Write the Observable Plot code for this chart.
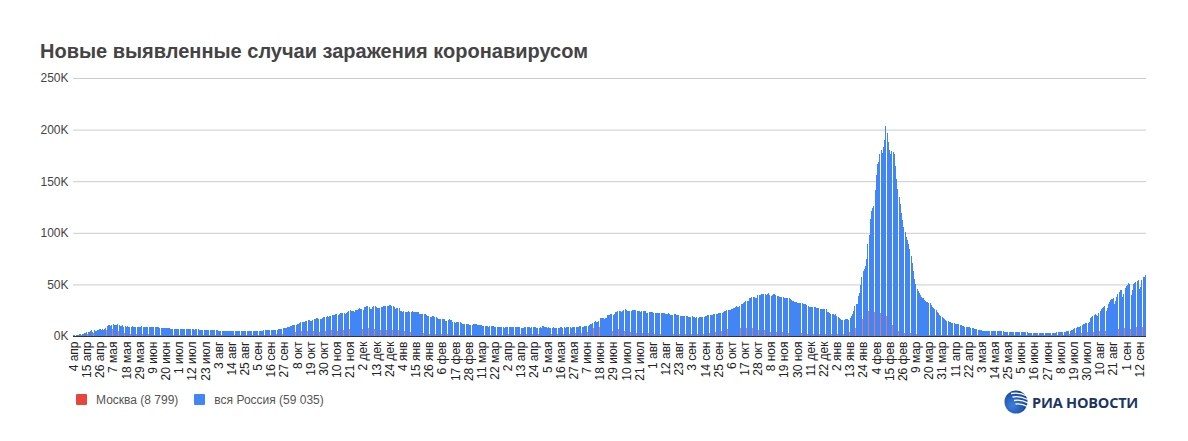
<!DOCTYPE html>
<html><head><meta charset="utf-8">
<script src="https://cdn.jsdelivr.net/npm/d3@7"></script>
<script src="https://cdn.jsdelivr.net/npm/@observablehq/plot@0.6"></script>
<style>
body{margin:0;background:#fff;font-family:Arial,"Liberation Sans",sans-serif;}
#wrap{position:relative;width:1188px;height:441px;overflow:hidden;background:#fff}
#chart{position:absolute;left:0;top:0}
#title{position:absolute;left:40px;top:41px;font-size:20px;line-height:20px;font-weight:bold;color:#444;white-space:nowrap}
#legend{position:absolute;left:76px;top:393px;height:13px;display:flex;align-items:center;font-size:12px;color:#555;white-space:nowrap}
#legend .sw{width:11px;height:11px;display:inline-block;margin-right:9px;border-radius:1px}
#legend .it{display:flex;align-items:center;margin-right:16px}
#logo{position:absolute;left:1004px;top:390px;display:flex;align-items:center;white-space:nowrap}
#logo span{font-family:"Open Sans",Arial,sans-serif;font-weight:bold;font-size:14.5px;color:#1c3563;margin-left:4px;letter-spacing:-0.2px}
#err{position:absolute;left:400px;top:10px;color:red;font-size:14px}
</style></head>
<body><div id="wrap"><div id="chart"></div>
<div id="title">Новые выявленные случаи заражения коронавирусом</div>
<div id="legend"></div>
<div id="logo"><svg width="24" height="24" viewBox="0 0 24 24">
<defs><radialGradient id="g" cx="35%" cy="65%" r="75%"><stop offset="0" stop-color="#3f7fe0"/><stop offset="1" stop-color="#0f3d91"/></radialGradient></defs>
<circle cx="12" cy="12" r="11.5" fill="url(#g)"/>
<path d="M7 3.5 Q15 2 23 6" stroke="#fff" stroke-width="1.3" fill="none"/>
<path d="M8.5 7 Q16 5.5 23.5 9.5" stroke="#fff" stroke-width="1.3" fill="none"/>
<path d="M10 10.5 Q17 9 24 13" stroke="#fff" stroke-width="1.3" fill="none"/>
<path d="M11.5 14 Q17.5 13 23.5 16.5" stroke="#fff" stroke-width="1.3" fill="none"/>
</svg><span>РИА НОВОСТИ</span></div>
<div id="err"></div>
</div>
<script>
// Daily new cases, thousands, starting 4 Apr 2020
const startDate = "2020-04-04";
const russia2020 = [
 0.6,0.6,0.7,1.0,1.2,1.5,1.8,1.7,2.2,2.6,2.8,3.4,3.4,4.1,4.8,6.1,4.3,5.6,5.2,4.8,5.8,6.0,6.4,6.2,6.4,5.8,7.1,
 7.9,9.6,10.6,10.6,10.1,10.6,11.2,10.7,10.8,11.0,11.7,10.9,10.0,10.0,10.6,9.2,9.7,8.9,9.3,8.8,8.8,8.9,9.4,8.6,8.9,8.9,8.3,8.4,8.6,9.0,9.3,
 9.0,8.9,8.5,8.8,8.7,8.9,9.0,9.0,8.6,8.4,8.8,9.0,8.7,8.8,8.2,8.2,7.8,7.8,8.0,7.9,7.7,7.6,7.4,7.2,7.1,6.8,6.9,6.8,6.7,6.7,
 6.6,6.8,6.7,6.6,6.7,6.6,6.4,6.6,6.5,6.6,6.6,6.6,6.5,6.2,6.4,6.4,6.4,6.2,6.1,5.9,5.8,5.9,5.8,5.8,5.9,5.8,5.6,5.5,5.4,5.5,5.5,
 5.5,5.4,5.2,5.2,5.1,5.2,5.2,5.2,5.1,5.1,4.9,4.9,5.1,5.1,5.1,5.0,4.8,4.8,4.8,4.8,4.9,4.9,4.9,4.7,4.7,4.7,4.7,4.7,4.8,4.9,4.7,
 4.7,4.7,4.9,5.0,5.2,5.2,5.2,5.1,5.1,5.4,5.4,5.5,5.4,5.5,5.7,5.7,5.9,6.1,6.1,6.2,6.2,6.4,6.4,6.6,7.2,7.5,7.9,8.1,8.2,8.5,
 8.9,9.4,9.4,10.9,10.5,10.9,11.1,11.5,12.1,12.8,13.6,13.9,13.9,13.8,14.2,14.9,15.2,15.1,15.0,15.0,15.7,16.0,16.5,17.3,17.3,16.6,16.2,16.2,17.7,18.3,18.1,
 18.7,19.0,18.6,19.8,19.4,20.0,20.6,20.4,21.8,20.9,19.9,21.6,21.9,22.7,22.6,22.6,20.9,22.4,23.6,24.3,24.8,24.6,24.3,24.6,23.7,25.2,25.5,26.3,26.7,26.3,
 26.4,25.3,28.1,28.1,28.8,29.0,28.1,26.1,26.4,27.9,28.6,29.0,28.1,27.3,26.7,27.0,28.2,28.2,28.9,29.4,29.0,28.6,29.4,29.9,29.6,29.0,28.6,27.8,26.5,26.9,26.8
];
const russia2021 = [
 27.0,24.7,24.2,23.4,24.2,23.5,23.2,23.3,24.2,22.9,23.3,24.1,22.9,23.5,23.6,23.0,22.9,21.7,21.3,21.1,21.1,21.2,21.3,20.0,19.3,18.9,18.4,18.8,18.9,19.0,18.4,
 18.4,17.4,16.6,16.5,16.7,16.6,16.6,16.0,15.0,14.8,15.9,16.0,15.5,15.4,14.0,13.4,12.8,13.4,13.8,13.5,13.3,12.6,12.0,11.9,11.2,11.4,11.5,11.5,
 11.1,11.0,11.0,11.5,11.5,11.5,11.2,10.6,10.8,10.5,10.7,10.0,10.0,10.0,9.9,9.5,9.0,9.5,9.3,9.4,9.3,9.1,9.0,8.9,8.4,8.8,8.8,8.6,8.7,8.1,8.3,
 8.9,8.9,8.8,9.1,8.8,8.6,8.6,8.3,8.8,8.8,8.7,8.6,8.2,8.2,8.2,8.3,8.7,8.7,8.6,8.3,7.8,8.3,8.3,8.7,8.7,8.1,8.1,8.1,8.5,8.1,
 9.3,9.3,9.1,8.8,8.2,8.3,8.2,8.1,8.2,8.4,8.2,8.2,8.2,8.2,8.2,8.9,8.7,8.2,8.3,8.2,8.3,8.6,8.4,8.4,8.2,8.5,8.6,8.6,8.9,9.0,9.1,
 9.6,9.3,9.0,9.0,9.4,9.8,9.7,9.9,10.4,11.7,11.7,12.5,13.5,14.2,13.4,13.4,14.1,17.3,17.6,17.9,17.4,16.7,17.6,20.2,20.4,20.5,21.7,21.0,20.2,21.0,
 23.5,23.2,24.4,24.4,24.4,23.4,24.0,25.0,25.8,25.0,24.7,24.5,24.0,23.8,25.1,25.3,25.1,25.0,24.2,23.9,23.8,23.7,23.8,24.1,24.1,24.3,22.6,22.4,23.3,23.3,23.6,
 23.1,22.4,22.0,22.0,22.6,22.6,22.6,22.0,22.2,22.5,22.1,21.8,21.5,22.0,21.6,20.7,20.5,20.5,21.1,21.0,20.8,20.6,20.1,19.6,19.6,19.5,19.1,19.4,19.1,18.9,18.3,
 18.8,18.7,18.9,18.2,18.1,17.6,18.0,17.8,18.6,18.7,18.8,18.6,18.4,19.1,19.7,20.0,20.2,20.2,20.3,20.8,21.0,21.2,21.5,21.4,22.0,22.2,22.6,22.4,22.8,23.9,
 24.5,25.1,25.3,25.6,25.1,26.0,26.6,27.3,27.9,28.6,28.5,28.5,28.8,31.3,31.3,32.2,33.0,33.7,33.7,34.1,36.4,37.1,37.6,37.6,37.9,36.6,36.4,40.1,40.1,40.2,40.3,
 40.4,40.4,40.4,40.2,40.7,41.3,39.4,39.2,39.4,40.8,40.8,40.0,39.2,38.8,37.9,38.0,37.4,37.4,37.1,37.1,37.2,36.9,36.4,35.8,34.7,33.9,33.6,32.9,32.9,32.1,
 32.1,32.1,32.1,32.2,31.0,31.2,30.8,29.7,29.1,28.5,28.3,28.3,28.2,27.7,28.2,27.4,27.3,27.2,26.6,26.6,26.1,26.6,25.9,25.8,23.6,23.6,22.2,21.1,21.2,21.1,20.6
];
const russia2022 = [
 21.0,19.5,18.8,17.5,16.2,15.4,15.1,15.7,16.6,16.1,16.2,15.8,17.5,18.9,21.2,23.8,29.0,30.7,31.3,38.8,41.3,49.5,57.2,63.2,65.1,67.8,74.7,88.8,98.0,113.1,121.2,
 124.1,125.8,141.9,155.8,166.6,168.2,176.6,180.1,177.3,183.1,190.0,203.9,197.1,188.0,180.5,176.0,179.0,178.0,176.0,165.0,152.0,142.0,135.0,128.0,119.0,112.0,106.0,101.0,
 96,93,89,84,78,71,63,55,50,46,44,42,40,38,36.5,35,34,33,32.5,32,31.6,30,28.5,27,26,24.8,23.5,22,20.5,19.5,18.5,
 17.5,16.2,15.5,14.8,14.2,13.8,13.4,13.0,12.6,12.2,11.9,11.6,11.4,11.2,10.9,10.5,10.0,9.6,9.2,9.0,8.8,8.6,8.4,8.1,7.8,7.5,7.1,6.8,6.5,6.2,
 5.8,5.6,5.4,5.3,5.2,5.0,4.9,4.8,4.7,4.6,4.8,4.9,4.8,4.7,4.6,4.5,4.6,4.7,4.6,4.5,4.4,4.3,4.3,4.2,4.1,4.0,3.9,3.8,3.7,3.6,3.6,
 3.5,3.5,3.5,3.5,3.4,3.4,3.4,3.4,3.4,3.4,3.3,3.3,3.2,3.2,3.3,3.3,3.3,3.2,3.1,3.1,3.1,3.2,3.2,3.2,3.1,3.0,3.1,3.2,3.2,3.3,
 3.3,3.3,3.2,3.2,3.4,3.5,3.5,3.6,3.6,3.7,3.8,4.0,4.4,4.7,5.0,5.2,5.5,5.8,6.8,7.5,8.0,8.5,8.8,9.0,9.5,10.5,11.3,11.9,12.3,12.4,12.6,
 13.5,17.0,18.6,19.6,20.5,21.5,20.4,18.9,22.5,24.6,25.8,27.2,28.4,28.9,24.6,26.9,31.1,33.3,35.2,36.2,36.9,30.9,33.7,38.2,40.8,43.0,44.1,44.4,37.9,41.1,46.1,
 48.4,49.7,51.2,50.1,40.2,44.1,50.5,51.7,52.5,53.1,53.9,45.3,47.9,54.3,56.8,57.2,59.035
];
const moscow2020 = [
 0.4,0.4,0.4,0.7,0.8,1.0,1.1,1.1,1.4,1.4,1.4,1.8,1.7,2.0,2.6,3.6,2.1,2.5,2.1,1.8,2.8,3.1,3.1,2.9,3.0,2.2,3.1,
 3.6,5.4,6.0,5.9,5.7,5.8,6.7,5.7,5.8,5.6,5.5,4.8,3.7,3.6,3.2,3.0,3.0,2.6,2.7,2.6,2.5,2.3,2.1,2.3,2.5,2.4,2.0,2.0,2.1,2.2,2.3,
 2.3,2.0,1.7,1.6,1.6,1.7,2.0,1.6,1.4,1.2,1.2,1.2,1.1,1.0,1.0,1.1,1.0,1.1,1.0,0.9,0.9,0.8,0.7,0.7,0.7,0.7,0.7,0.8,0.6,0.6,
 0.6,0.7,0.7,0.7,0.7,0.6,0.6,0.7,0.7,0.7,0.7,0.7,0.7,0.6,0.7,0.7,0.7,0.7,0.7,0.7,0.7,0.7,0.7,0.7,0.7,0.7,0.7,0.7,0.6,0.7,0.7,
 0.7,0.7,0.7,0.7,0.7,0.7,0.7,0.7,0.7,0.7,0.6,0.6,0.6,0.6,0.6,0.6,0.6,0.6,0.6,0.6,0.6,0.6,0.6,0.6,0.6,0.6,0.6,0.7,0.7,0.7,0.7,
 0.7,0.7,0.7,0.8,0.7,0.8,0.7,0.8,0.8,0.9,1.0,1.0,1.1,1.1,1.3,1.3,1.4,1.5,1.7,1.8,1.8,1.8,1.8,2.0,2.0,2.3,2.9,2.9,3.1,3.3,
 3.4,3.8,3.8,4.8,4.3,3.7,4.3,4.1,5.0,4.7,4.6,4.4,4.4,4.6,5.1,4.6,4.4,4.6,4.3,4.4,4.3,4.9,5.0,5.2,5.2,4.5,4.3,4.5,5.1,5.2,5.2,
 5.2,5.0,4.6,5.3,5.2,5.5,5.5,5.8,6.0,5.5,5.1,5.9,6.4,6.0,6.1,5.9,5.4,5.5,5.4,5.9,6.7,6.4,6.4,6.0,6.0,7.1,7.1,7.2,7.3,7.0,
 7.1,6.6,7.5,7.1,7.8,8.2,7.9,7.1,6.8,7.0,6.7,7.1,6.4,6.4,5.2,5.2,5.9,6.0,6.2,6.9,6.8,6.1,5.1,5.7,6.2,6.4,5.7,5.0,4.7,5.0,5.2
];
const moscow2021 = [
 5.7,5.0,4.6,4.3,4.8,4.9,4.8,4.6,4.8,4.4,3.9,3.8,3.5,3.9,3.5,3.5,3.3,3.0,2.6,2.6,2.8,2.6,2.5,2.4,2.2,2.0,2.0,2.1,2.1,2.0,2.0,
 2.0,1.9,1.9,1.8,1.8,1.8,1.8,1.7,1.5,1.5,1.7,1.7,1.6,1.6,1.5,1.4,1.3,1.4,1.4,1.5,1.3,1.2,1.2,1.2,1.2,1.3,1.3,1.3,
 1.2,1.2,1.2,1.3,1.3,1.4,1.3,1.2,1.2,1.2,1.3,1.3,1.3,1.3,1.2,1.2,1.2,1.3,1.3,1.2,1.2,1.2,1.2,1.3,1.2,1.3,1.3,1.3,1.3,1.2,1.3,
 1.4,1.5,1.5,1.6,1.6,1.6,1.6,1.4,1.7,1.7,1.7,1.7,1.5,1.4,1.5,1.6,1.7,1.7,1.7,1.6,1.3,1.7,1.8,1.8,1.8,1.6,1.6,1.6,1.9,1.8,
 2.1,2.1,2.2,2.1,2.0,2.0,2.0,2.2,2.4,2.5,2.4,2.2,2.1,2.3,2.2,2.2,2.3,2.2,2.4,2.2,2.3,2.5,2.4,2.3,2.0,2.3,2.6,2.7,2.8,3.0,3.1,
 3.4,3.1,3.0,3.1,3.6,3.7,4.0,4.2,4.5,5.7,5.6,6.7,7.6,7.3,5.7,5.8,6.4,9.1,9.1,8.6,7.7,6.6,6.6,7.9,7.5,7.4,7.3,6.3,5.2,5.6,
 7.6,7.4,7.4,6.9,5.3,4.5,5.0,5.0,5.1,4.7,4.3,3.9,3.5,3.5,3.5,3.3,3.3,3.2,2.8,2.7,2.8,2.8,2.8,2.7,2.6,2.4,2.3,2.3,2.6,2.6,2.6,
 2.6,2.2,2.1,2.2,2.3,2.3,2.2,2.1,1.9,2.0,2.1,2.2,2.1,2.0,1.9,1.8,1.7,1.7,1.7,1.7,1.7,1.7,1.6,1.6,1.6,1.7,1.7,1.7,1.8,1.7,1.7,
 1.7,1.8,2.0,2.0,1.8,1.8,1.8,1.8,2.2,2.4,2.2,2.0,2.0,2.1,2.4,2.6,2.7,2.8,2.9,2.9,3.1,3.5,3.9,4.2,4.6,4.9,4.6,4.7,5.6,6.0,
 6.8,7.2,7.2,6.6,6.4,6.0,6.7,7.1,7.5,7.5,7.4,6.9,7.6,7.6,8.1,8.1,7.9,7.2,7.5,8.0,9.1,9.0,8.5,8.0,7.2,6.5,5.8,6.2,6.0,6.4,6.3,
 6.3,6.2,6.1,5.1,5.1,5.0,4.0,3.7,3.6,3.4,3.7,3.9,3.9,3.6,3.4,3.3,3.4,3.6,3.9,3.6,3.2,2.9,3.0,3.1,3.1,2.9,2.9,2.6,2.2,2.3,
 2.6,2.7,2.6,2.5,2.2,1.8,1.9,2.2,2.3,2.3,2.3,2.1,1.8,2.0,2.1,2.3,2.4,2.3,2.1,1.8,2.2,2.5,2.6,2.4,2.2,2.1,1.9,2.1,2.2,2.3,2.1
];
const moscow2022 = [
 1.9,1.8,1.7,1.6,1.5,1.6,1.9,1.8,1.6,1.9,2.4,2.9,3.4,4.0,4.8,5.2,6.0,7.5,9.4,11.0,12.5,14.0,15.5,16.5,18.0,22.0,25.0,25.5,24.0,22.5,22.0,
 22.0,22.5,23.0,23.5,22.5,21.5,22.0,22.0,21.5,21.0,20.5,20.0,19.5,16.0,13.5,12.0,11.5,11.0,9.5,7.5,6.0,5.2,4.8,4.5,4.0,3.5,3.3,3.2,
 3.0,2.9,2.8,2.7,2.5,2.3,2.1,1.9,1.9,1.8,1.8,1.7,1.7,1.6,1.6,1.6,1.6,1.5,1.5,1.5,1.4,1.4,1.4,1.3,1.3,1.3,1.2,1.2,1.2,1.1,1.1,
 1.1,1.0,1.0,1.0,1.0,1.0,1.0,0.9,0.9,0.9,0.9,0.9,0.9,0.9,0.8,0.8,0.8,0.8,0.8,0.8,0.8,0.8,0.7,0.7,0.7,0.7,0.7,0.7,0.6,0.6,
 0.6,0.6,0.6,0.6,0.6,0.6,0.6,0.6,0.6,0.6,0.6,0.6,0.6,0.6,0.6,0.6,0.6,0.6,0.6,0.6,0.6,0.6,0.6,0.6,0.5,0.5,0.5,0.5,0.5,0.5,0.5,
 0.5,0.5,0.5,0.5,0.5,0.5,0.5,0.5,0.5,0.5,0.5,0.5,0.5,0.5,0.5,0.5,0.5,0.5,0.5,0.5,0.5,0.5,0.6,0.6,0.6,0.6,0.6,0.6,0.7,0.7,
 0.7,0.7,0.8,0.8,0.9,1.0,1.0,1.1,1.2,1.3,1.4,1.6,1.8,2.0,2.2,2.3,2.5,2.6,2.8,3.0,3.1,3.2,3.3,3.3,3.1,3.3,3.4,3.6,3.7,3.7,3.7,
 3.5,3.8,4.0,4.1,4.2,4.3,4.2,4.0,4.5,4.7,4.9,5.0,5.1,5.1,4.6,5.0,5.4,5.6,5.8,5.9,6.0,5.4,5.8,6.3,6.6,6.9,7.0,7.0,6.3,6.7,7.3,
 7.6,7.8,7.9,7.8,6.8,7.3,7.9,8.1,8.2,8.3,8.3,7.4,7.9,8.4,8.6,8.7,8.799
];
const tickLabels = ["4 апр","15 апр","26 апр","7 мая","18 мая","29 мая","9 июн","20 июн","1 июл","12 июл","23 июл","3 авг","14 авг","25 авг","5 сен","16 сен","27 сен","8 окт","19 окт","30 окт","10 ноя","21 ноя","2 дек","13 дек","24 дек",
 "4 янв","15 янв","26 янв","6 фев","17 фев","28 фев","11 мар","22 мар","2 апр","13 апр","24 апр","5 мая","16 мая","27 мая","7 июн","18 июн","29 июн","10 июл","21 июл","1 авг","12 авг","23 авг","3 сен","14 сен","25 сен","6 окт","17 окт","28 окт","8 ноя","19 ноя","30 ноя","11 дек","22 дек",
 "2 янв","13 янв","24 янв","4 фев","15 фев","26 фев","9 мар","20 мар","31 мар","11 апр","22 апр","3 мая","14 мая","25 мая","5 июн","16 июн","27 июн","8 июл","19 июл","30 июл","10 авг","21 авг","1 сен","12 сен"];
const tickStepDays = 11;
const yTicks = [0, 50000, 100000, 150000, 200000, 250000];
const yTickLabels = ["0K","50K","100K","150K","200K","250K"];
const seriesNames = ["Москва (8 799)", "вся Россия (59 035)"];
const seriesColors = ["#e8453c", "#4285f4"];

const russia = [...russia2020, ...russia2021, ...russia2022];
const moscow = [...moscow2020, ...moscow2021, ...moscow2022];
const DAY = 864e5;
const t0 = Date.parse(startDate + "T00:00:00Z");
const N = russia.length;
if (moscow.length !== N || N !== 897) document.getElementById("err").textContent = "len russia " + N + " moscow " + moscow.length;
const rows = russia.map((v, i) => ({date: new Date(t0 + i * DAY), russia: v * 1000, moscow: moscow[i] * 1000}));
const RED = 0.15; // share of each day's slot taken by the Moscow column
const tickDates = tickLabels.map((_, i) => new Date(t0 + (i * tickStepDays + 0.5) * DAY));
const tickMap = new Map(tickDates.map((d, i) => [+d, tickLabels[i]]));
const yMap = new Map(yTicks.map((v, i) => [v, yTickLabels[i]]));

const chart = Plot.plot({
  width: 1188, height: 441,
  marginTop: 78, marginBottom: 105, marginLeft: 73, marginRight: 42,
  style: {fontFamily: "Arial, 'Liberation Sans', sans-serif", fontSize: "12px", color: "#222", background: "transparent"},
  x: {type: "utc", domain: [new Date(t0), new Date(t0 + N * DAY)]},
  y: {domain: [0, 250000]},
  marks: [
    Plot.gridY(yTicks.slice(1), {stroke: "#cccccc", strokeOpacity: 1}),
    Plot.rectY(rows, {x1: d => d.date, x2: d => new Date(+d.date + RED * DAY), y1: 0, y2: "moscow", fill: seriesColors[0], fillOpacity: 0.75, shapeRendering: "crispEdges"}),
    Plot.rectY(rows, {x1: d => new Date(+d.date + RED * DAY), x2: d => new Date(+d.date + DAY), y1: 0, y2: "russia", fill: seriesColors[1], shapeRendering: "crispEdges"}),
    Plot.ruleY([0], {stroke: "#333"}),
    Plot.axisY({ticks: yTicks, tickFormat: v => yMap.get(v), tickSize: 0, tickPadding: 5, fill: "#444", fontSize: 12, label: null}),
    Plot.axisX({ticks: tickDates, tickFormat: d => tickMap.get(+d), tickRotate: -90, tickSize: 0, tickPadding: 5, fill: "#222", fontSize: 12, label: null})
  ]
});
document.getElementById("chart").appendChild(chart);

const lg = document.getElementById("legend");
seriesNames.forEach((n, i) => {
  const it = document.createElement("div"); it.className = "it";
  it.innerHTML = `<span class="sw" style="background:${seriesColors[i]}"></span><span>${n}</span>`;
  lg.appendChild(it);
});
</script>
</body></html>
